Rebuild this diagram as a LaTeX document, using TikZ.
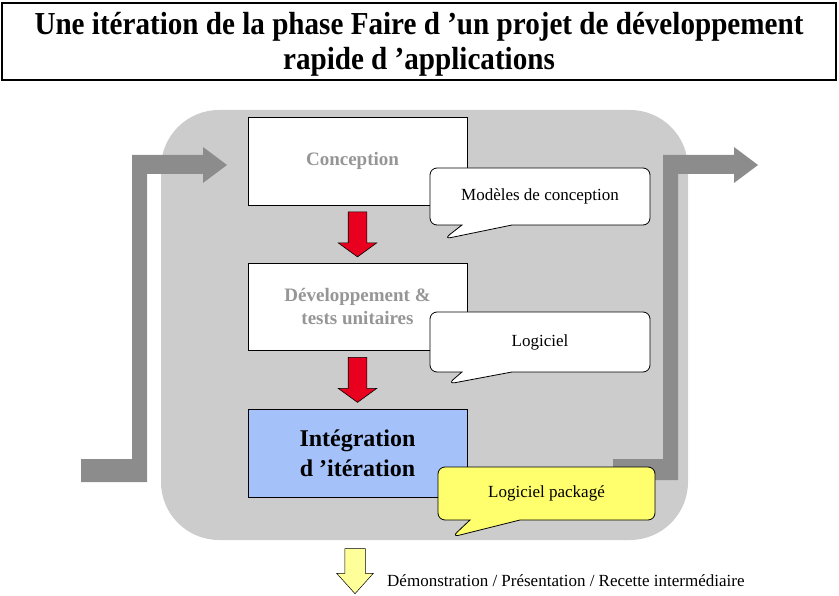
\documentclass[tikz,border=0pt]{standalone}
\usepackage{fontspec}
\setmainfont{Liberation Serif}
\newfontfamily\titrefont[FakeStretch=0.91]{Liberation Serif}
\usetikzlibrary{shapes.arrows,shapes.callouts,positioning,calc}
\definecolor{fondgris}{RGB}{204,204,204}
\definecolor{flechegris}{RGB}{140,140,140}
\definecolor{textegris}{RGB}{150,150,150}
\definecolor{bleuinteg}{RGB}{164,193,250}
\definecolor{rougefl}{RGB}{232,0,30}
\definecolor{jaunebulle}{RGB}{255,255,110}
\definecolor{jaunefl}{RGB}{255,255,153}

\begin{document}
\begin{tikzpicture}
		[x=1pt,y=-1pt,
		etape/.style={draw=black,line width=0.8pt,fill=white,inner sep=0pt,
			minimum width=219pt,minimum height=88pt,align=center,
			font=\fontsize{19}{23}\selectfont\bfseries},
		bulle/.style={rectangle callout,draw=black,line width=0.8pt,fill=white,
			rounded corners=7pt,inner sep=0pt,minimum width=220pt,minimum height=57pt,
			callout pointer width=50pt,font=\fontsize{17}{20}\selectfont},
		fleche/.style={single arrow,draw=black,line width=0.6pt,fill=rougefl,
			inner sep=9pt,minimum height=45pt,minimum width=38pt,
			single arrow head extend=10pt,single arrow tip angle=108,
			shape border rotate=270,yshift=3pt},
		flechejaune/.style={single arrow,draw=black,line width=0.5pt,fill=jaunefl,
			inner sep=10pt,minimum height=45pt,minimum width=36pt,
			single arrow head extend=8pt,single arrow tip angle=84,
			shape border rotate=270}]
		\useasboundingbox (0,0) rectangle (839,596);
		%---------------------titre------------
		\draw[line width=1.2pt] (2,3) rectangle (836,80);
		\node[inner sep=0pt,align=center,font=\titrefont\fontsize{32}{35}\selectfont\bfseries]
			(titre) at (419,44.5) {Une itération de la phase Faire d ’un projet de développement\\
			rapide d ’applications};
		%---------------------fond de l'iteration------------
		\fill[fondgris,rounded corners=58pt] (161,110) rectangle (688,540);
		%----entree / sortie------
		\fill[flechegris] (81,459) -- (132,459) -- (132,155) -- (203,155) -- (203,147) -- (227,165)
			-- (203,183) -- (203,174) -- (147,174) -- (147,482) -- (81,482) -- cycle;
		\fill[flechegris] (613,459) -- (663,459) -- (663,155) -- (734,155) -- (734,147) -- (758,165)
			-- (734,183) -- (734,174) -- (678,174) -- (678,480) -- (613,480) -- cycle;
		%---------------------etapes---------
		\node at (357.5,161) [etape,text=textegris] (conc) {\hspace*{-10pt}Conception};
		\node at (357.5,306.5) [etape,minimum height=87pt,text=textegris] (dev) {Développement \&\\tests unitaires};
		\node at (357.5,453) [etape,fill=bleuinteg,font=\fontsize{24}{30}\selectfont\bfseries] (integ) {Intégration\\d ’itération};
		\path (conc) -- (dev) node[midway,fleche] (f1) {};
		\path (dev) -- (integ) node[midway,fleche] (f2) {};
		%---------------------livrables---------
		\node at (540,196.5) [bulle,callout absolute pointer={(444,239)}] (modeles) {Modèles de conception};
		\node at (540,342) [bulle,minimum height=60pt,callout absolute pointer={(448,384)}] (logiciel) {Logiciel};
		\node at (546.5,493.5) [bulle,fill=jaunebulle,minimum width=217pt,minimum height=53pt,
			callout absolute pointer={(452,537)}] (package) {Logiciel packagé};
		%---------------------sortie---------
		\node at (355,565.5) [flechejaune] (demo) {};
		\node at (387,581) [anchor=west,inner sep=0pt,font=\fontsize{17}{20}\selectfont] (recette)
			{Démonstration / Présentation / Recette intermédiaire};
\end{tikzpicture}
\end{document}
